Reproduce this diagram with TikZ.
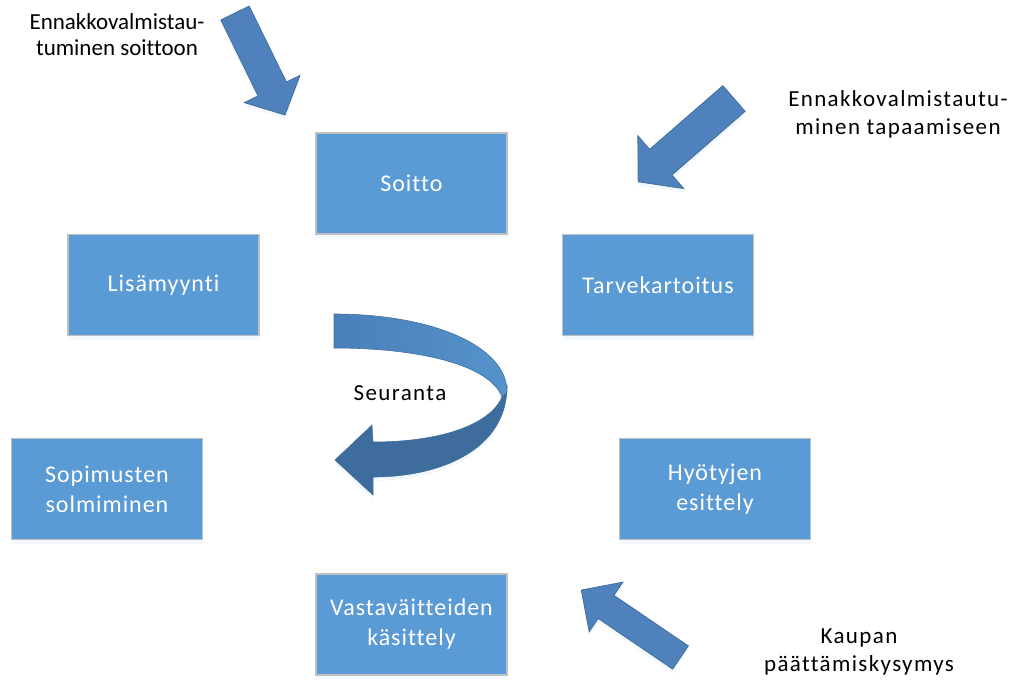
\documentclass[tikz,border=0pt]{standalone}
\usepackage{fontspec}
\setmainfont{Carlito}[Ligatures={NoCommon}]
\newfontfamily\boxfont{Carlito}[LetterSpace=4,Ligatures={NoCommon}]
\newfontfamily\spacedfont{Carlito}[LetterSpace=6,Ligatures={NoCommon}]
\usetikzlibrary{shadows}
\definecolor{boxblue}{HTML}{5B9BD5}
\definecolor{boxedge}{HTML}{BFBFBF}
\definecolor{arrowblue}{HTML}{4F81BD}
\definecolor{arrowedge}{HTML}{41719C}
\definecolor{bandlight}{HTML}{5592CB}
\definecolor{banddark}{HTML}{4980BA}
\definecolor{bandlow}{HTML}{3E6C9C}
\tikzset{
  softshadow/.style={drop shadow={shadow xshift=0pt,shadow yshift=-4pt,opacity=0.1,fill=boxblue!70}},
  stagebox/.style={rectangle, fill=boxblue, draw=boxedge, line width=1.5pt,
    minimum width=191pt, minimum height=101pt, align=center, text=white,
    font=\boxfont\fontsize{24}{30}\selectfont, softshadow},
  sidelabel/.style={align=center, text=black, font=\fontsize{23}{26}\selectfont},
  spacedlabel/.style={align=center, text=black, font=\spacedfont\fontsize{23}{28}\selectfont},
  blockarrow/.style={fill=arrowblue, draw=arrowedge, line width=0.8pt, line join=miter, softshadow},
}
% straight block arrow: tail centre, angle, length, half shaft width, half head width, head length
\newcommand{\blkarrow}[6]{%
  \begin{scope}[shift={#1}, rotate=#2]
    \draw[blockarrow] (0,-#4) -- ({#3-#6},-#4) -- ({#3-#6},-#5) -- (#3,0)
      -- ({#3-#6},#5) -- ({#3-#6},#4) -- (0,#4) -- cycle;
  \end{scope}}
\begin{document}
\begin{tikzpicture}[x=1pt,y=-1pt]
\useasboundingbox (0,0) rectangle (1019,681);

% process stages
\node[stagebox] (soitto) at (411.5,183.5) {Soitto};
\node[stagebox] (lisa)   at (163.5,285)   {Lisämyynti};
\node[stagebox] (tarve)  at (658,285)     {Tarvekartoitus};
\node[stagebox] (sopim)  at (107,489)     {Sopimusten\\solmiminen};
\node[stagebox] (hyoty)  at (715,489)     {Hyötyjen\\esittely};
\node[stagebox] (vasta)  at (411.5,624.5) {Vastaväitteiden\\käsittely};

% preparation notes with their pointers
\node[sidelabel]   (prepcall) at (117,35)  {Ennakkovalmistau-\\tuminen soittoon};
\node[spacedlabel] (prepmeet) at (898,114) {Ennakkovalmistautu-\\minen tapaamiseen};
\node[spacedlabel] (closeq)   at (859,652) {Kaupan\\päättämiskysymys};

\blkarrow{(235,13)}{-63.9}{113.6}{15.8}{31}{29}
\blkarrow{(734,98.5)}{-139}{127}{17}{35}{30}
\blkarrow{(680.5,657.5)}{145.8}{120}{14}{30}{30}

% follow-up loop: lower band first, upper band on top
\draw[fill=bandlow, draw=arrowedge, line width=0.6pt, line join=miter, softshadow]
  (507,386) .. controls (507,450) and (440,477) .. (373,477)
  -- (373,495) -- (335,460) -- (372,425) -- (373,442)
  .. controls (440,442) and (490,425) .. (502,397) -- cycle;
\draw[left color=banddark, right color=bandlight, draw=arrowedge, line width=0.6pt]
  (334,314) .. controls (430,314) and (507,345) .. (507,392)
  -- (502,397) .. controls (490,365) and (420,348) .. (334,348) -- cycle;
\node[spacedlabel] (seur) at (400,393) {Seuranta};
\end{tikzpicture}
\end{document}
